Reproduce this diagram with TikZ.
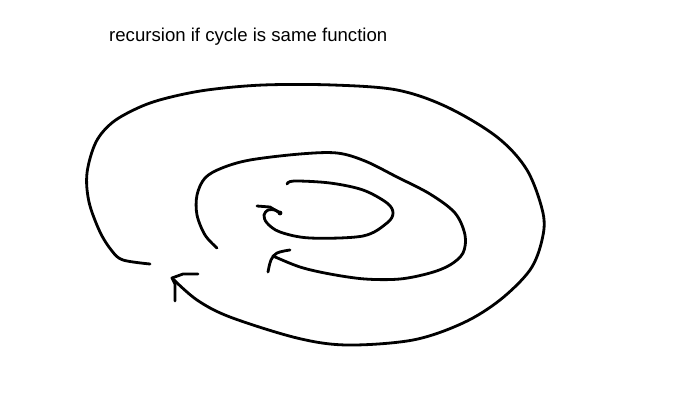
\documentclass[tikz,border=0pt]{standalone}
\usepackage{fontspec}
\setmainfont{Liberation Sans}
\begin{document}
\begin{tikzpicture}[x=1pt,y=-1pt,
  pen/.style={line width=2.8pt,line cap=round,line join=round,black},
  caption/.style={font=\fontsize{18.6}{20}\selectfont,anchor=west,inner sep=0pt}]
\useasboundingbox (0,0) rectangle (693,412);
\node[caption] (title) at (109,37) {recursion if cycle is same function};
% outer spiral
\draw[pen] plot[smooth,tension=0.55] coordinates {
 (150,264) (123,260) (112,251) (100,232) (89,202) (87,173) (96,142) (113,122)
 (140,107) (167,98) (207,90) (263,85) (333,85) (397,90) (447,107) (497,137)
 (527,170) (543,213) (542,240) (530,270) (500,300) (463,323) (413,340)
 (347,345) (297,338) (230,317) (197,300) (173,279)};
% outer arrowhead
\draw[pen] (198,274) -- (183,274) -- (172,278) -- (175,284) -- (175,301);
% middle spiral
\draw[pen] plot[smooth,tension=0.55] coordinates {
 (217,248) (205,235) (197,215) (197,195) (205,178) (222,168) (250,160)
 (300,154) (337,153) (365,161) (397,177) (430,194) (455,213) (465,235)
 (463,253) (450,265) (430,273) (400,279) (365,279) (330,274) (300,267) (273,256)};
% middle arrowhead
\draw[pen] plot[smooth,tension=0.6] coordinates {(290,250) (277,253) (271,260) (268,272)};
% inner spiral
\draw[pen] plot[smooth,tension=0.55] coordinates {
 (287,184) (294,181) (330,183) (363,190) (387,203) (393,213) (387,223)
 (363,236) (310,238) (280,232) (267,223) (264,215) (268,210) (275,210) (280,213)};
\draw[pen] (257,206) -- (270,207) -- (280,213);
\fill (280,213) circle (2.4);
\end{tikzpicture}
\end{document}
